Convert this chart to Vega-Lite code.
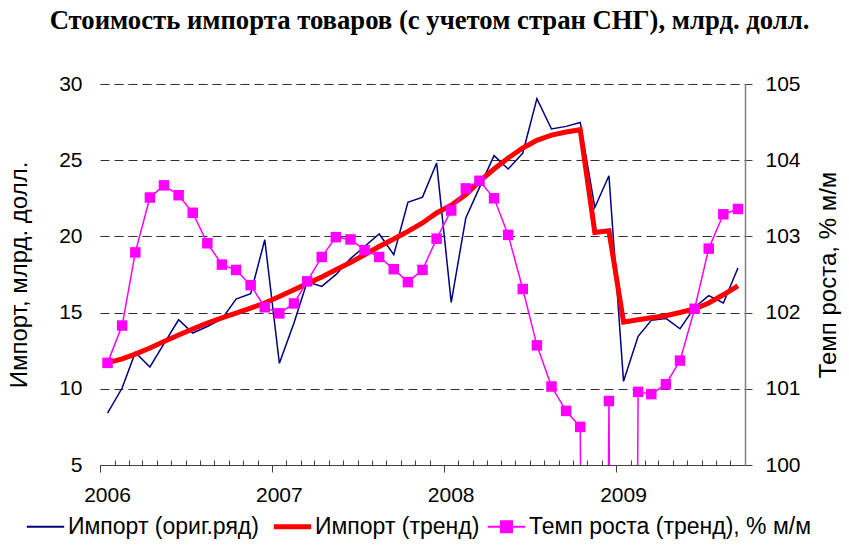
{
  "$schema": "https://vega.github.io/schema/vega-lite/v6.json",
  "width": 645,
  "height": 381,
  "autosize": {"type": "none"},
  "padding": {"left": 100, "top": 84, "right": 104, "bottom": 82},
  "background": "white",
  "title": {
    "text": "Стоимость импорта товаров (с учетом стран СНГ), млрд. долл.",
    "font": "Liberation Serif",
    "fontSize": 26.7,
    "fontWeight": "bold",
    "color": "black",
    "anchor": "middle",
    "baseline": "alphabetic",
    "offset": 17,
    "dx": 7
  },
  "config": {
    "view": {"stroke": null},
    "axis": {
      "labelFont": "Liberation Sans",
      "titleFont": "Liberation Sans",
      "labelFontSize": 21,
      "titleFontSize": 24,
      "labelColor": "black",
      "titleColor": "black",
      "titleFontWeight": "normal"
    }
  },
  "data": {
    "values": [
      {"date": "2006-01-01", "orig": 8.41, "trend": 11.70, "rate": 101.34},
      {"date": "2006-02-01", "orig": 10.05, "trend": 11.96, "rate": 101.83},
      {"date": "2006-03-01", "orig": 12.39, "trend": 12.28, "rate": 102.79},
      {"date": "2006-04-01", "orig": 11.43, "trend": 12.68, "rate": 103.51},
      {"date": "2006-05-01", "orig": 12.96, "trend": 13.11, "rate": 103.67},
      {"date": "2006-06-01", "orig": 14.53, "trend": 13.53, "rate": 103.54},
      {"date": "2006-07-01", "orig": 13.66, "trend": 13.92, "rate": 103.31},
      {"date": "2006-08-01", "orig": 14.09, "trend": 14.32, "rate": 102.91},
      {"date": "2006-09-01", "orig": 14.58, "trend": 14.65, "rate": 102.63},
      {"date": "2006-10-01", "orig": 15.89, "trend": 14.97, "rate": 102.56},
      {"date": "2006-11-01", "orig": 16.24, "trend": 15.30, "rate": 102.36},
      {"date": "2006-12-01", "orig": 19.78, "trend": 15.63, "rate": 102.07},
      {"date": "2007-01-01", "orig": 11.67, "trend": 16.05, "rate": 101.99},
      {"date": "2007-02-01", "orig": 14.32, "trend": 16.50, "rate": 102.12},
      {"date": "2007-03-01", "orig": 17.03, "trend": 16.90, "rate": 102.41},
      {"date": "2007-04-01", "orig": 16.72, "trend": 17.34, "rate": 102.73},
      {"date": "2007-05-01", "orig": 17.49, "trend": 17.81, "rate": 102.99},
      {"date": "2007-06-01", "orig": 18.54, "trend": 18.29, "rate": 102.96},
      {"date": "2007-07-01", "orig": 19.34, "trend": 18.80, "rate": 102.82},
      {"date": "2007-08-01", "orig": 20.16, "trend": 19.34, "rate": 102.73},
      {"date": "2007-09-01", "orig": 18.80, "trend": 19.83, "rate": 102.57},
      {"date": "2007-10-01", "orig": 22.23, "trend": 20.33, "rate": 102.40},
      {"date": "2007-11-01", "orig": 22.58, "trend": 20.88, "rate": 102.56},
      {"date": "2007-12-01", "orig": 24.82, "trend": 21.54, "rate": 102.97},
      {"date": "2008-01-01", "orig": 15.67, "trend": 22.05, "rate": 103.34},
      {"date": "2008-02-01", "orig": 21.21, "trend": 22.74, "rate": 103.63},
      {"date": "2008-03-01", "orig": 23.20, "trend": 23.61, "rate": 103.73},
      {"date": "2008-04-01", "orig": 25.30, "trend": 24.42, "rate": 103.50},
      {"date": "2008-05-01", "orig": 24.42, "trend": 25.14, "rate": 103.02},
      {"date": "2008-06-01", "orig": 25.47, "trend": 25.80, "rate": 102.31},
      {"date": "2008-07-01", "orig": 29.04, "trend": 26.30, "rate": 101.57},
      {"date": "2008-08-01", "orig": 27.05, "trend": 26.65, "rate": 101.03},
      {"date": "2008-09-01", "orig": 27.22, "trend": 26.85, "rate": 100.71},
      {"date": "2008-10-01", "orig": 27.48, "trend": 27.00, "rate": 100.50},
      {"date": "2008-11-01", "orig": 21.90, "trend": 20.26, "rate": 75.0},
      {"date": "2008-12-01", "orig": 23.98, "trend": 20.37, "rate": 100.84},
      {"date": "2009-01-01", "orig": 10.49, "trend": 14.38, "rate": 70.7},
      {"date": "2009-02-01", "orig": 13.44, "trend": 14.53, "rate": 100.96},
      {"date": "2009-03-01", "orig": 14.49, "trend": 14.66, "rate": 100.93},
      {"date": "2009-04-01", "orig": 14.62, "trend": 14.79, "rate": 101.06},
      {"date": "2009-05-01", "orig": 13.94, "trend": 15.01, "rate": 101.37},
      {"date": "2009-06-01", "orig": 15.34, "trend": 15.24, "rate": 102.05},
      {"date": "2009-07-01", "orig": 16.11, "trend": 15.63, "rate": 102.84},
      {"date": "2009-08-01", "orig": 15.63, "trend": 16.17, "rate": 103.29},
      {"date": "2009-09-01", "orig": 17.93, "trend": 16.76, "rate": 103.36}
    ]
  },
  "encoding": {
    "x": {
      "field": "date",
      "type": "temporal",
      "title": null,
      "scale": {
        "type": "utc",
        "domain": [
          {"year": 2005, "month": 12, "date": 16, "utc": true},
          {"year": 2009, "month": 9, "date": 16, "utc": true}
        ],
        "nice": false
      },
      "axis": {
        "values": [
          {"year": 2005, "month": 12, "date": 16, "utc": true},
          {"year": 2006, "month": 1, "date": 16, "utc": true},
          {"year": 2006, "month": 2, "date": 16, "utc": true},
          {"year": 2006, "month": 3, "date": 16, "utc": true},
          {"year": 2006, "month": 4, "date": 16, "utc": true},
          {"year": 2006, "month": 5, "date": 16, "utc": true},
          {"year": 2006, "month": 6, "date": 16, "utc": true},
          {"year": 2006, "month": 7, "date": 16, "utc": true},
          {"year": 2006, "month": 8, "date": 16, "utc": true},
          {"year": 2006, "month": 9, "date": 16, "utc": true},
          {"year": 2006, "month": 10, "date": 16, "utc": true},
          {"year": 2006, "month": 11, "date": 16, "utc": true},
          {"year": 2006, "month": 12, "date": 16, "utc": true},
          {"year": 2007, "month": 1, "date": 16, "utc": true},
          {"year": 2007, "month": 2, "date": 16, "utc": true},
          {"year": 2007, "month": 3, "date": 16, "utc": true},
          {"year": 2007, "month": 4, "date": 16, "utc": true},
          {"year": 2007, "month": 5, "date": 16, "utc": true},
          {"year": 2007, "month": 6, "date": 16, "utc": true},
          {"year": 2007, "month": 7, "date": 16, "utc": true},
          {"year": 2007, "month": 8, "date": 16, "utc": true},
          {"year": 2007, "month": 9, "date": 16, "utc": true},
          {"year": 2007, "month": 10, "date": 16, "utc": true},
          {"year": 2007, "month": 11, "date": 16, "utc": true},
          {"year": 2007, "month": 12, "date": 16, "utc": true},
          {"year": 2008, "month": 1, "date": 16, "utc": true},
          {"year": 2008, "month": 2, "date": 16, "utc": true},
          {"year": 2008, "month": 3, "date": 16, "utc": true},
          {"year": 2008, "month": 4, "date": 16, "utc": true},
          {"year": 2008, "month": 5, "date": 16, "utc": true},
          {"year": 2008, "month": 6, "date": 16, "utc": true},
          {"year": 2008, "month": 7, "date": 16, "utc": true},
          {"year": 2008, "month": 8, "date": 16, "utc": true},
          {"year": 2008, "month": 9, "date": 16, "utc": true},
          {"year": 2008, "month": 10, "date": 16, "utc": true},
          {"year": 2008, "month": 11, "date": 16, "utc": true},
          {"year": 2008, "month": 12, "date": 16, "utc": true},
          {"year": 2009, "month": 1, "date": 16, "utc": true},
          {"year": 2009, "month": 2, "date": 16, "utc": true},
          {"year": 2009, "month": 3, "date": 16, "utc": true},
          {"year": 2009, "month": 4, "date": 16, "utc": true},
          {"year": 2009, "month": 5, "date": 16, "utc": true},
          {"year": 2009, "month": 6, "date": 16, "utc": true},
          {"year": 2009, "month": 7, "date": 16, "utc": true},
          {"year": 2009, "month": 8, "date": 16, "utc": true}
        ],
        "labelExpr": "utcmonth(datum.value) == 11 ? '' + (utcyear(datum.value) + 1) : ''",
        "labelOffset": 7,
        "labelFlush": false,
        "labelOverlap": false,
        "labelPadding": 12,
        "grid": false,
        "domainColor": "#404040",
        "domainWidth": 1.2,
        "tickColor": "#404040",
        "tickWidth": 1,
        "tickSize": {"condition": {"test": "utcmonth(datum.value) == 11", "value": 7}, "value": -5}
      }
    }
  },
  "layer": [
    {
      "layer": [
        {
          "mark": {"type": "line", "strokeWidth": 1.5, "clip": true},
          "encoding": {
            "y": {
              "field": "orig",
              "type": "quantitative",
              "title": "Импорт, млрд. долл.",
              "scale": {"domain": [5, 30], "nice": false, "zero": false},
              "axis": {
                "values": [5, 10, 15, 20, 25, 30],
                "domain": false,
                "ticks": false,
                "labelPadding": 18,
                "grid": true,
                "gridColor": "#303030",
                "gridDash": [9, 5],
                "gridWidth": 1,
                "titlePadding": 27
              }
            },
            "color": {
              "datum": "Импорт (ориг.ряд)",
              "scale": {
                "domain": ["Импорт (ориг.ряд)", "Импорт (тренд)", "Темп роста (тренд), % м/м"],
                "range": ["#000080", "#FF0000", "#FF00FF"]
              },
              "legend": {
                "orient": "none",
                "legendX": -66,
                "legendY": 431,
                "direction": "horizontal",
                "title": null,
                "labelFont": "Liberation Sans",
                "labelFontSize": 23,
                "labelColor": "black",
                "labelLimit": 600,
                "labelOffset": 11,
                "columnPadding": 4,
                "symbolType": "stroke",
                "symbolSize": 1400,
                "encode": {
                  "symbols": {
                    "update": {
                      "strokeWidth": {"signal": "datum.value === 'Импорт (тренд)' ? 5 : 1.8"},
                      "shape": {"signal": "datum.value === 'Темп роста (тренд), % м/м' ? 'M-1,0H1M-0.3,-0.3H0.3V0.3H-0.3Z' : 'stroke'"},
                      "fill": {"signal": "datum.value === 'Темп роста (тренд), % м/м' ? '#FF00FF' : 'transparent'"}
                    }
                  }
                }
              }
            }
          }
        },
        {
          "mark": {"type": "line", "strokeWidth": 5, "clip": true},
          "encoding": {
            "y": {"field": "trend", "type": "quantitative"},
            "color": {"datum": "Импорт (тренд)"}
          }
        }
      ]
    },
    {
      "encoding": {
        "y": {
          "field": "rate",
          "type": "quantitative",
          "title": "Темп роста, % м/м",
          "scale": {"domain": [100, 105], "nice": false, "zero": false},
          "axis": {
            "orient": "right",
            "values": [100, 101, 102, 103, 104, 105],
            "grid": false,
            "domainColor": "#808080",
            "domainWidth": 1.5,
            "tickColor": "#404040",
            "tickSize": 7,
            "labelPadding": 13,
            "titleAngle": 270,
            "titlePadding": 40
          }
        },
        "color": {"datum": "Темп роста (тренд), % м/м"}
      },
      "layer": [
        {"mark": {"type": "line", "strokeWidth": 1.5, "clip": true}},
        {"mark": {"type": "point", "shape": "square", "filled": true, "size": 110, "opacity": 1, "clip": true}}
      ]
    }
  ],
  "resolve": {"scale": {"y": "independent"}}
}
